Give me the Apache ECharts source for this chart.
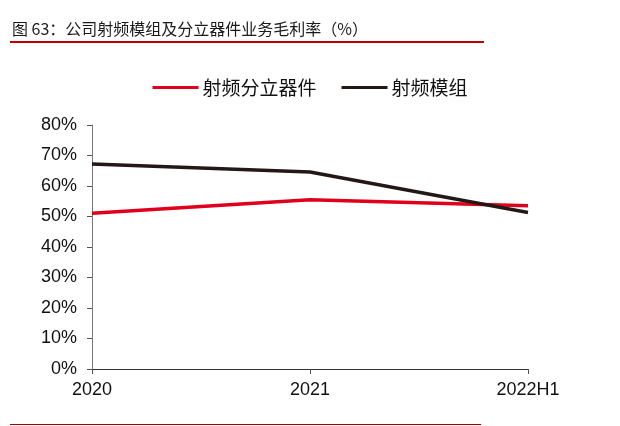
<!DOCTYPE html>
<html><head><meta charset="utf-8">
<script src="https://cdn.jsdelivr.net/npm/echarts@6/dist/echarts.min.js"></script>
<style>html,body{margin:0;padding:0;background:#fff}#c{width:620px;height:426px}</style>
</head><body><div id="c"></div>
<script>
const categories = ['2020', '2021', '2022H1'];
const discreteName = '射频分立器件';
const moduleName = '射频模组';
const discreteValues = [51.1, 55.5, 53.5];
const moduleValues = [67.2, 64.6, 51.3];
const yTicks = [0, 10, 20, 30, 40, 50, 60, 70, 80];
const titleText = '图 63：公司射频模组及分立器件业务毛利率（%）';

const chart = echarts.init(document.getElementById('c'));
const font = '"Liberation Sans", Arial, "Noto Sans CJK SC", sans-serif';
chart.setOption({
  animation: false,
  textStyle: { fontFamily: font },
  graphic: [
    { type: 'text', left: 12, top: 21, style: { text: titleText, font: '16px "Noto Sans CJK SC", sans-serif', fill: '#1a1a1a' } },
    { type: 'rect', shape: { x: 10, y: 41, width: 474, height: 2 }, style: { fill: '#c00000' } },
    { type: 'rect', shape: { x: 10, y: 424, width: 471, height: 1 }, style: { fill: '#a00000' } }
  ],
  legend: {
    top: 73, left: 'center',
    itemWidth: 46, itemHeight: 3, itemGap: 25,
    icon: 'rect',
    textStyle: { fontSize: 19, color: '#111', fontFamily: '"Noto Sans CJK SC", sans-serif', padding: [0, 0, 0, -1] },
    data: [discreteName, moduleName]
  },
  grid: { left: 92, right: 92, top: 125, bottom: 57 },
  xAxis: {
    type: 'category', data: categories, boundaryGap: false,
    axisLine: { lineStyle: { color: '#333', width: 1 } },
    axisTick: { show: true, length: 5, lineStyle: { color: '#555' } },
    axisLabel: { fontSize: 18, color: '#111', margin: 12 }
  },
  yAxis: {
    type: 'value', min: 0, max: 80, interval: 10,
    axisLine: { show: true, lineStyle: { color: '#777', width: 1 } },
    axisTick: { show: true, length: 5, lineStyle: { color: '#555' } },
    axisLabel: { fontSize: 18, color: '#111', margin: 15, formatter: v => yTicks.includes(v) ? v + '%' : '' },
    splitLine: { show: false }
  },
  series: [
    { name: discreteName, type: 'line', data: discreteValues, symbol: 'none', lineStyle: { color: '#e0001b', width: 3.5 }, itemStyle: { color: '#e0001b' } },
    { name: moduleName, type: 'line', data: moduleValues, symbol: 'none', lineStyle: { color: '#231815', width: 3.5 }, itemStyle: { color: '#231815' } }
  ]
});
</script></body></html>
